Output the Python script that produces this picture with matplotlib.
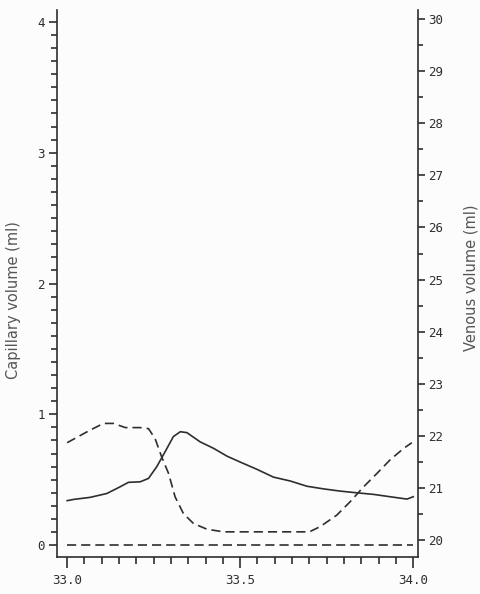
import matplotlib.pyplot as plt
plt.switch_backend('agg')
import numpy as np
from matplotlib.ticker import MultipleLocator, FormatStrFormatter

# capillary volume (ml), left axis
time_cap = [33.0, 33.02, 33.066, 33.115, 33.153, 33.177, 33.211, 33.235, 33.259,
            33.283, 33.307, 33.327, 33.346, 33.384, 33.423, 33.462, 33.5, 33.548,
            33.596, 33.645, 33.693, 33.741, 33.789, 33.837, 33.885, 33.933, 33.982, 34.0]
capillary = [0.34, 0.35, 0.365, 0.395, 0.446, 0.48, 0.484, 0.51, 0.60,
             0.714, 0.83, 0.867, 0.86, 0.79, 0.74, 0.68, 0.635, 0.58,
             0.52, 0.49, 0.45, 0.43, 0.413, 0.40, 0.388, 0.37, 0.352, 0.37]

# venous volume (ml), right axis
time_ven = [33.0, 33.03, 33.066, 33.105, 33.134, 33.168, 33.211, 33.235, 33.254,
            33.273, 33.293, 33.312, 33.336, 33.365, 33.404, 33.452, 33.70, 33.731,
            33.779, 33.818, 33.856, 33.895, 33.933, 33.972, 33.996]
venous = [21.87, 21.98, 22.11, 22.24, 22.24, 22.16, 22.16, 22.14, 21.95,
          21.60, 21.28, 20.83, 20.51, 20.32, 20.21, 20.16, 20.16, 20.26,
          20.48, 20.74, 21.02, 21.28, 21.54, 21.76, 21.87]

ink = '#2e2e2e'
dash = (5.5, 3.0)

fig = plt.figure(figsize=(4.8, 5.94), dpi=100)
fig.patch.set_facecolor('#fcfcfc')
ax = fig.add_axes([0.119, 0.062, 0.752, 0.921])
ax.set_facecolor('none')
ax2 = ax.twinx()

ax.plot(time_cap, capillary, color=ink, lw=1.2)
ax.plot([33.0, 34.0], [0, 0], color=ink, lw=1.2, dashes=dash)
ax2.plot(time_ven, venous, color=ink, lw=1.2, dashes=dash)

ax.set_xlim(32.971, 34.014)
ax.set_ylim(-0.092, 4.09)
ax2.set_ylim(19.674, 30.17)

for a in (ax, ax2):
    a.spines['top'].set_visible(False)
    for s in a.spines.values():
        s.set_color(ink)
        s.set_linewidth(1.2)
ax.spines['right'].set_visible(False)
ax2.spines['left'].set_visible(False)
ax2.spines['bottom'].set_visible(False)

ax.xaxis.set_major_locator(MultipleLocator(0.5))
ax.xaxis.set_minor_locator(MultipleLocator(0.05))
ax.xaxis.set_major_formatter(FormatStrFormatter('%.1f'))
ax.yaxis.set_major_locator(MultipleLocator(1))
ax.yaxis.set_minor_locator(MultipleLocator(0.1))
ax2.yaxis.set_major_locator(MultipleLocator(1))
ax2.yaxis.set_minor_locator(MultipleLocator(0.5))

ax.tick_params(axis='x', which='major', length=8, width=1.2, color=ink, pad=4, labelcolor=ink)
ax.tick_params(axis='x', which='minor', length=5, width=1.2, color=ink)
ax.tick_params(axis='y', which='major', length=6, width=1.2, color=ink, pad=3, labelcolor=ink)
ax.tick_params(axis='y', which='minor', length=4, width=1.2, color=ink)
ax2.tick_params(axis='y', which='major', length=5, width=1.2, color=ink, pad=2, labelcolor=ink)
ax2.tick_params(axis='y', which='minor', length=3.5, width=1.2, color=ink)
for lab in ax.get_xticklabels() + ax.get_yticklabels() + ax2.get_yticklabels():
    lab.set_fontfamily('DejaVu Sans Mono')
    lab.set_fontsize(9)

ax.set_ylabel('Capillary volume (ml)', fontsize=10.5, color='#555555')
ax2.set_ylabel('Venous volume (ml)', fontsize=10.5, color='#555555')
ax.yaxis.set_label_coords(-0.100, 0.47)
ax2.yaxis.set_label_coords(1.125, 0.51)

plt.savefig('out.png', dpi=100, facecolor=fig.get_facecolor())
plt.close()
